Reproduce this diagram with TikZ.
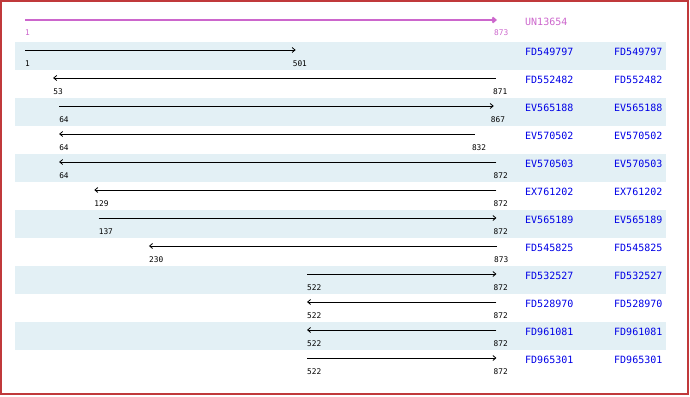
\documentclass[tikz,border=0pt]{standalone}
\usepackage{fontspec}
\newfontfamily\idfont{DejaVu Sans Mono}
\usetikzlibrary{arrows.meta}

\definecolor{rowshade}{RGB}{227,240,245}
\definecolor{hitblue}{RGB}{0,0,230}
\definecolor{querymag}{RGB}{204,102,204}
\definecolor{framered}{RGB}{192,57,59}

\tikzset{
    >={Straight Barb[length=3pt,width=5pt]},
    hit/.style={line width=0.8pt,->},
    query/.style={querymag,line width=2pt,->},
    poslabel/.style={anchor=west,inner sep=0pt,font=\idfont\fontsize{7.8}{8}\selectfont},
    acc/.style={anchor=west,inner sep=0pt,text=hitblue,font=\idfont\fontsize{10}{12}\selectfont}
}

\begin{document}
\begin{tikzpicture}[x=1pt,y=-1pt]
    \useasboundingbox (0,0) rectangle (690,396);

    % query sequence
    \coordinate (qs) at (25,20);
    \coordinate (qe) at (497,20);
    \draw[query] (qs) -- (qe);
    \node[poslabel,text=querymag] (qlo) at (25,33) {1};
    \node[poslabel,text=querymag] (qhi) at (494,33) {873};
    \node[acc,text=querymag] (qacc) at (525,22) {UN13654};

    % hits: row / start / end / direction / name
    \foreach \i/\s/\e/\d/\name in {
        1/1/501/1/FD549797,
        2/53/871/-1/FD552482,
        3/64/867/1/EV565188,
        4/64/832/-1/EV570502,
        5/64/872/-1/EV570503,
        6/129/872/-1/EX761202,
        7/137/872/1/EV565189,
        8/230/873/-1/FD545825,
        9/522/872/1/FD532527,
        10/522/872/-1/FD528970,
        11/522/872/-1/FD961081,
        12/522/872/1/FD965301}
    {
        \pgfmathsetmacro{\rowtop}{42+28*(\i-1)}
        \pgfmathsetmacro{\xs}{25+(\s-1)*0.541284}
        \pgfmathsetmacro{\xe}{25+(\e-1)*0.541284}
        \ifodd\i
            \fill[rowshade] (15,\rowtop) rectangle (666,\rowtop+28);
        \fi
        \coordinate (s\i) at (\xs,\rowtop+8);
        \coordinate (e\i) at (\xe,\rowtop+8);
        \ifnum\d=1
            \draw[hit] (s\i) -- (e\i);
        \else
            \draw[hit] (e\i) -- (s\i);
        \fi
        \node[poslabel] (lo\i) at (\xs,\rowtop+22) {\s};
        \node[poslabel] (hi\i) at (\xe-3,\rowtop+22) {\e};
        \node[acc] (acc\i) at (525,\rowtop+10) {\name};
        \node[acc] (link\i) at (614,\rowtop+10) {\name};
    }

    % frame
    \draw[framered,line width=1.5pt] (1,1) rectangle (688,394);
\end{tikzpicture}
\end{document}
